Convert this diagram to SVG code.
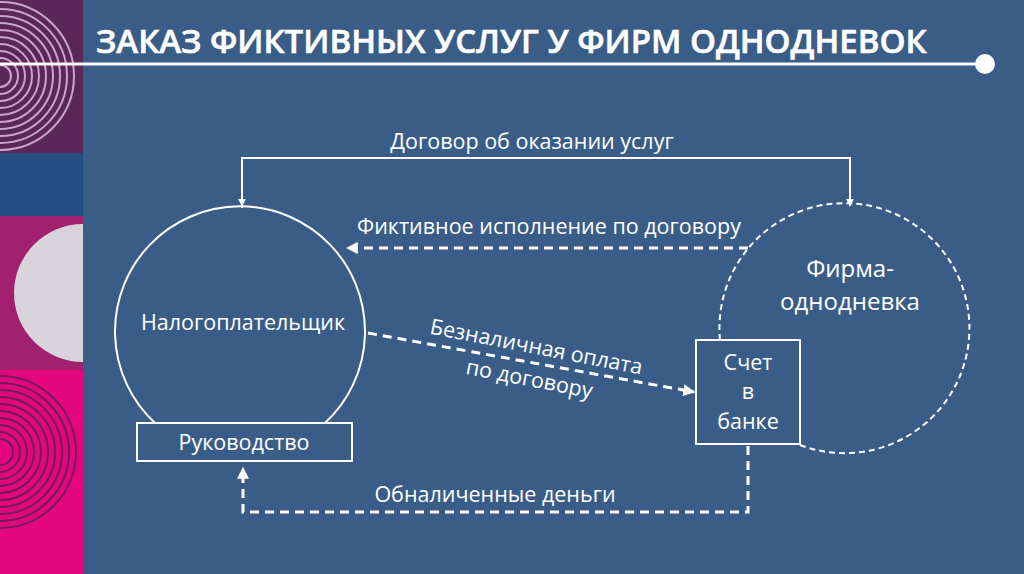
<svg xmlns="http://www.w3.org/2000/svg" width="1024" height="574" viewBox="0 0 1024 574">
<defs>
<style>
text{font-family:"Open Sans","Noto Sans",sans-serif;fill:#fff}
.lbl{font-size:21.5px}
.c{stroke:#fff;stroke-width:2;fill:none}
.d{stroke:#fff;stroke-width:3;fill:none;stroke-dasharray:9 6}
.d2{stroke:#fff;stroke-width:2;fill:none;stroke-dasharray:6 4}
</style>
<marker id="ah" viewBox="0 0 10 10" refX="9" refY="5" markerWidth="4" markerHeight="4" orient="auto"><path d="M0,0L10,5L0,10z" fill="#fff"/></marker>
<clipPath id="p1"><rect x="0" y="0" width="83" height="153"/></clipPath>
<clipPath id="p4"><rect x="0" y="370" width="83" height="204"/></clipPath>
</defs>
<rect width="1024" height="574" fill="#3a5d88"/>
<rect x="0" y="0" width="83" height="153" fill="#5b2658"/>
<g clip-path="url(#p1)" fill="none" stroke="#c9a6c8" stroke-width="2">
<circle cx="0" cy="76" r="74"/><circle cx="0" cy="76" r="67"/><circle cx="0" cy="76" r="60"/><circle cx="0" cy="76" r="53"/><circle cx="0" cy="76" r="46"/><circle cx="0" cy="76" r="39"/><circle cx="0" cy="76" r="32"/><circle cx="0" cy="76" r="25"/><circle cx="0" cy="76" r="18"/><circle cx="0" cy="76" r="11"/>
</g>
<rect x="0" y="153" width="83" height="63" fill="#254f82"/>
<rect x="0" y="216" width="83" height="154" fill="#a1216e"/>
<path d="M83,224 A68,68 0 0 0 83,362 Z" fill="#d8d4dc"/>
<rect x="0" y="370" width="83" height="204" fill="#e4067f"/>
<g clip-path="url(#p4)" fill="none" stroke="#6e1d5a" stroke-width="2">
<circle cx="0" cy="452" r="76"/><circle cx="0" cy="452" r="69"/><circle cx="0" cy="452" r="62"/><circle cx="0" cy="452" r="55"/><circle cx="0" cy="452" r="48"/><circle cx="0" cy="452" r="41"/><circle cx="0" cy="452" r="34"/><circle cx="0" cy="452" r="27"/><circle cx="0" cy="452" r="20"/><circle cx="0" cy="452" r="13"/>
</g>
<text x="96" y="53" font-size="33" font-weight="600" stroke="#fff" stroke-width="0.6" style="font-family:'Open Sans',sans-serif">ЗАКАЗ ФИКТИВНЫХ УСЛУГ У ФИРМ ОДНОДНЕВОК</text>
<line x1="0" y1="64" x2="980" y2="64" stroke="#fff" stroke-width="3"/>
<circle cx="985" cy="64" r="10" fill="#fff"/>
<g id="connectors">
<polyline class="c" points="242,208 242,158 850,158 850,206" marker-end="url(#ah)"/>
<path class="c" d="M242,160 L242,206" marker-end="url(#ah)"/>
<line class="d" x1="748" y1="248" x2="347" y2="248" marker-end="url(#ah)"/>
<line class="d" x1="368" y1="333" x2="694" y2="392" marker-end="url(#ah)"/>
<polyline class="d" points="748,446 748,512 243,512 243,468" marker-end="url(#ah)"/>
<text class="lbl" x="532" y="149" text-anchor="middle">Договор об оказании услуг</text>
<text class="lbl" x="549" y="234" text-anchor="middle">Фиктивное исполнение по договору</text>
<text class="lbl" x="535" y="354" text-anchor="middle" transform="rotate(11 535 354)">Безналичная оплата</text>
<text class="lbl" x="528" y="386" text-anchor="middle" transform="rotate(11 528 386)">по договору</text>
<text class="lbl" x="495" y="502" text-anchor="middle">Обналиченные деньги</text>
</g>
<g id="taxpayer">
<path class="c" d="M155,423 A125,125 0 1 1 325,423"/>
<text class="lbl" x="243" y="330" text-anchor="middle">Налогоплательщик</text>
</g>
<g id="management">
<rect class="c" x="137" y="423" width="215" height="38"/>
<text class="lbl" x="244" y="450" text-anchor="middle">Руководство</text>
</g>
<g id="firm">
<path class="d2" d="M720,340 A125,125 0 1 1 800,445"/>
<text x="850" y="277" font-size="24" text-anchor="middle">Фирма-</text>
<text x="850" y="310" font-size="24" text-anchor="middle">однодневка</text>
</g>
<g id="account">
<rect class="c" x="696" y="340" width="104" height="104"/>
<text class="lbl" x="748" y="370" text-anchor="middle">Счет</text>
<text class="lbl" x="748" y="399" text-anchor="middle">в</text>
<text class="lbl" x="748" y="429" text-anchor="middle">банке</text>
</g>
</svg>
